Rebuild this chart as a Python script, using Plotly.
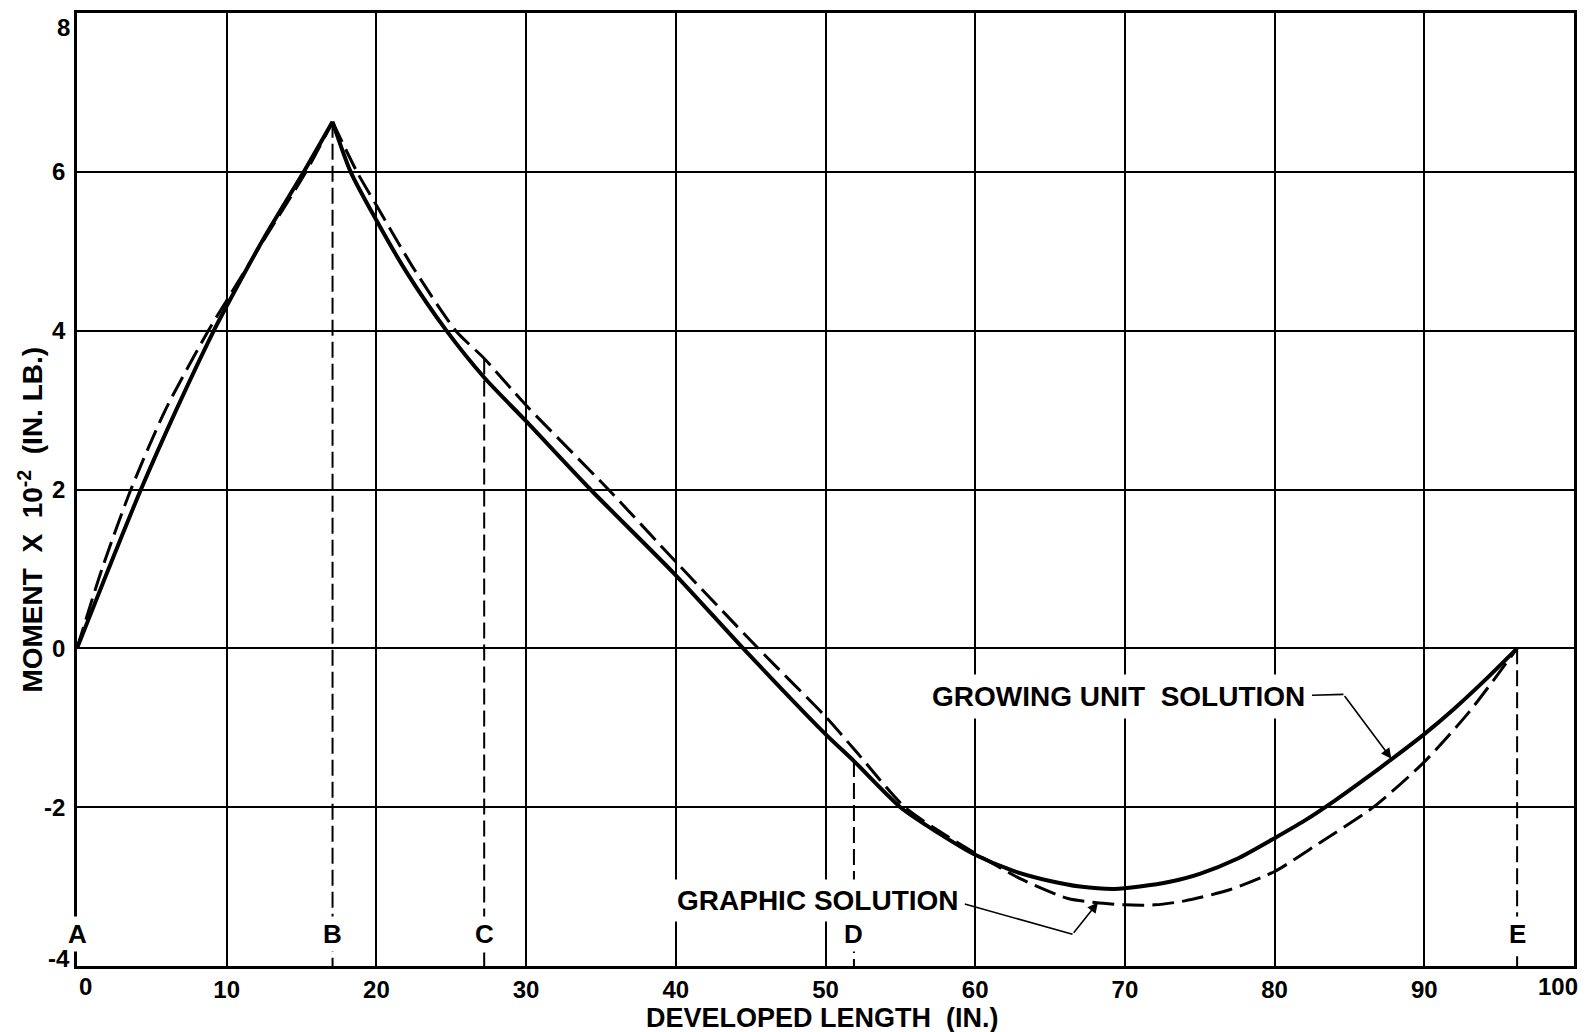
import plotly.graph_objects as go

# ---------------- data ----------------
# Growing unit solution (solid curve)
gu_x = [0, 2.15, 4.27, 6.6, 9.06, 10, 12.5, 15.15, 17.07, 18.28, 20, 22, 24.68, 27.2, 30,
        34.3, 40, 44.5, 50, 51.9, 55, 57.5, 60, 62.5, 65, 67, 69.3, 71, 73, 75, 77.5,
        80, 82, 84, 86, 88, 90, 92, 94, 96.2]
gu_y = [0, 1.02, 2.0, 2.99, 3.97, 4.31, 5.17, 6.0, 6.63, 6.0, 5.39, 4.74, 4.0, 3.41, 2.86,
        2.0, 0.92, 0.0, -1.08, -1.42, -2.0, -2.32, -2.6, -2.8, -2.93, -3.0, -3.03, -3.0, -2.94, -2.84, -2.65,
        -2.39, -2.17, -1.92, -1.65, -1.37, -1.08, -0.76, -0.41, 0]

# Graphic solution (dashed curve)
gs_x = [0, 1.67, 3.6, 5.9, 8.77, 10, 12.5, 15.3, 17.07, 18.7, 20, 22.5, 25.3, 27.2, 30,
        35.5, 40, 45.5, 50, 52, 55.3, 58, 60, 63, 66.2, 68, 70, 72, 74, 77,
        80, 83, 86.6, 90, 93, 96.2]
gs_y = [0, 1.0, 2.0, 3.0, 4.0, 4.38, 5.15, 6.0, 6.63, 6.0, 5.58, 4.78, 4.0, 3.65, 3.06,
        2.0, 1.09, 0.0, -0.86, -1.29, -2.0, -2.35, -2.58, -2.9, -3.15, -3.2, -3.23, -3.23, -3.18, -3.04,
        -2.81, -2.45, -2.0, -1.43, -0.8, 0]

# Stations along developed length
station_names = ["A", "B", "C", "D", "E"]
station_x = [0, 17.07, 27.2, 51.9, 96.2]
station_top = [0, 6.63, 3.65, -1.42, 0]
station_label_y = -3.6

x_ticks = [0, 10, 20, 30, 40, 50, 60, 70, 80, 90, 100]
y_ticks = [-4, -2, 0, 2, 4, 6, 8]

X_RANGE = [0, 100]
Y_RANGE = [-4, 8]

FONT = "Liberation Sans"
NB = "\u00a0"


def split_at_peak(xs, ys):
    """Split a curve at its maximum so the sharp peak stays a corner."""
    k = ys.index(max(ys))
    return (xs[:k + 1], ys[:k + 1]), (xs[k:], ys[k:])


# ---------------- figure ----------------
fig = go.Figure()

# vertical dashed station lines (B..E; A is on the axis)
vx, vy = [], []
for sx, st in zip(station_x[1:], station_top[1:]):
    vx += [sx, sx, None]
    vy += [st, Y_RANGE[0], None]
fig.add_trace(go.Scatter(x=vx, y=vy, mode="lines",
                         line=dict(color="black", width=2, dash="16px,6px"),
                         hoverinfo="skip", showlegend=False))

for part in split_at_peak(gs_x, gs_y):
    fig.add_trace(go.Scatter(x=part[0], y=part[1], mode="lines", name="GRAPHIC SOLUTION",
                             line=dict(color="black", width=3, dash="22px,8px",
                                       shape="spline", smoothing=0.7),
                             showlegend=False))
for part in split_at_peak(gu_x, gu_y):
    fig.add_trace(go.Scatter(x=part[0], y=part[1], mode="lines", name="GROWING UNIT SOLUTION",
                             line=dict(color="black", width=4, shape="spline", smoothing=0.7),
                             showlegend=False))

ann = []
# station letters
for name, sx in zip(station_names, station_x):
    ann.append(dict(x=sx, y=station_label_y, xref="x", yref="y", text=name,
                    showarrow=False, font=dict(size=26, family=FONT, color="black", weight="bold"),
                    bgcolor="white", borderpad=2))

# curve labels
ann.append(dict(x=69.6, y=-0.61, xref="x", yref="y",
                text=f"GROWING UNIT{NB}{NB}SOLUTION", showarrow=False,
                font=dict(size=28, family=FONT, color="black", weight="bold"),
                bgcolor="white", borderpad=6))
ann.append(dict(x=49.5, y=-3.18, xref="x", yref="y",
                text="GRAPHIC SOLUTION", showarrow=False,
                font=dict(size=28, family=FONT, color="black", weight="bold"),
                bgcolor="white", borderpad=5))

# arrows of the leaders
ann.append(dict(x=87.8, y=-1.39, ax=84.6, ay=-0.58, xref="x", yref="y", axref="x", ayref="y",
                text="", showarrow=True, arrowhead=2, arrowsize=1.3, arrowwidth=1.6,
                arrowcolor="black", standoff=0, startstandoff=0))
ann.append(dict(x=68.2, y=-3.2, ax=66.5, ay=-3.6, xref="x", yref="y", axref="x", ayref="y",
                text="", showarrow=True, arrowhead=2, arrowsize=1.3, arrowwidth=1.6,
                arrowcolor="black", standoff=0, startstandoff=0))

tick_font = dict(size=24, family=FONT, color="black", weight="bold")
# edge tick labels placed so they sit like the reference
ann.append(dict(x=x_ticks[0], y=0, xref="x", yref="paper", text=str(x_ticks[0]),
                showarrow=False, yanchor="top", xshift=8, yshift=-5, font=tick_font))
ann.append(dict(x=x_ticks[-1], y=0, xref="x", yref="paper", text=str(x_ticks[-1]),
                showarrow=False, yanchor="top", xanchor="right", xshift=6, yshift=-5, font=tick_font))
ann.append(dict(x=0, y=y_ticks[-1], xref="paper", yref="y", text=str(y_ticks[-1]),
                showarrow=False, xanchor="right", xshift=-5, yshift=-14, font=tick_font))
ann.append(dict(x=0, y=y_ticks[0], xref="paper", yref="y", text=str(y_ticks[0]),
                showarrow=False, xanchor="right", xshift=-5, yshift=8, font=tick_font))

# axis titles
ann.append(dict(x=49.8, y=-0.055, xref="x", yref="paper", yanchor="middle", xanchor="center",
                text=f"DEVELOPED LENGTH{NB}{NB}(IN.)", showarrow=False,
                font=dict(size=27, family=FONT, color="black", weight="bold")))
ann.append(dict(x=-0.031, y=0.468, xref="paper", yref="paper", textangle=-90,
                xanchor="center", yanchor="middle",
                text=f"MOMENT{NB}{NB}X{NB}{NB}10<sup>-2</sup>{NB}{NB}(IN.{NB}LB.)", showarrow=False,
                font=dict(size=28, family=FONT, color="black", weight="bold")))

shapes = [
    dict(type="line", xref="x", yref="y", x0=82.5, y0=-0.59, x1=84.6, y1=-0.58,
         line=dict(color="black", width=1.6)),
    dict(type="line", xref="x", yref="y", x0=59.3, y0=-3.22, x1=66.5, y1=-3.6,
         line=dict(color="black", width=1.6)),
]

fig.update_layout(
    width=1587, height=1032, autosize=False,
    margin=dict(l=77, r=11, t=10, b=66, pad=0),
    paper_bgcolor="white", plot_bgcolor="white",
    font=dict(family=FONT, color="black", size=24),
    showlegend=False,
    annotations=ann, shapes=shapes,
    xaxis=dict(range=X_RANGE, tickvals=x_ticks[1:-1], ticktext=[str(v) for v in x_ticks[1:-1]],
               showgrid=True, gridcolor="black", gridwidth=2, zeroline=False,
               showline=True, linecolor="black", linewidth=2.5, mirror=True,
               ticks="", ticklabelstandoff=0, tickfont=tick_font, fixedrange=True),
    yaxis=dict(range=Y_RANGE, tickvals=y_ticks[1:-1], ticktext=[str(v) for v in y_ticks[1:-1]],
               showgrid=True, gridcolor="black", gridwidth=2, zeroline=False,
               showline=True, linecolor="black", linewidth=2.5, mirror=True,
               ticks="", ticklabelstandoff=4, tickfont=tick_font, fixedrange=True),
)

fig.write_html("out.html", config={"displayModeBar": False},
               post_script="document.body.style.margin='0';document.body.style.overflow='hidden';")
